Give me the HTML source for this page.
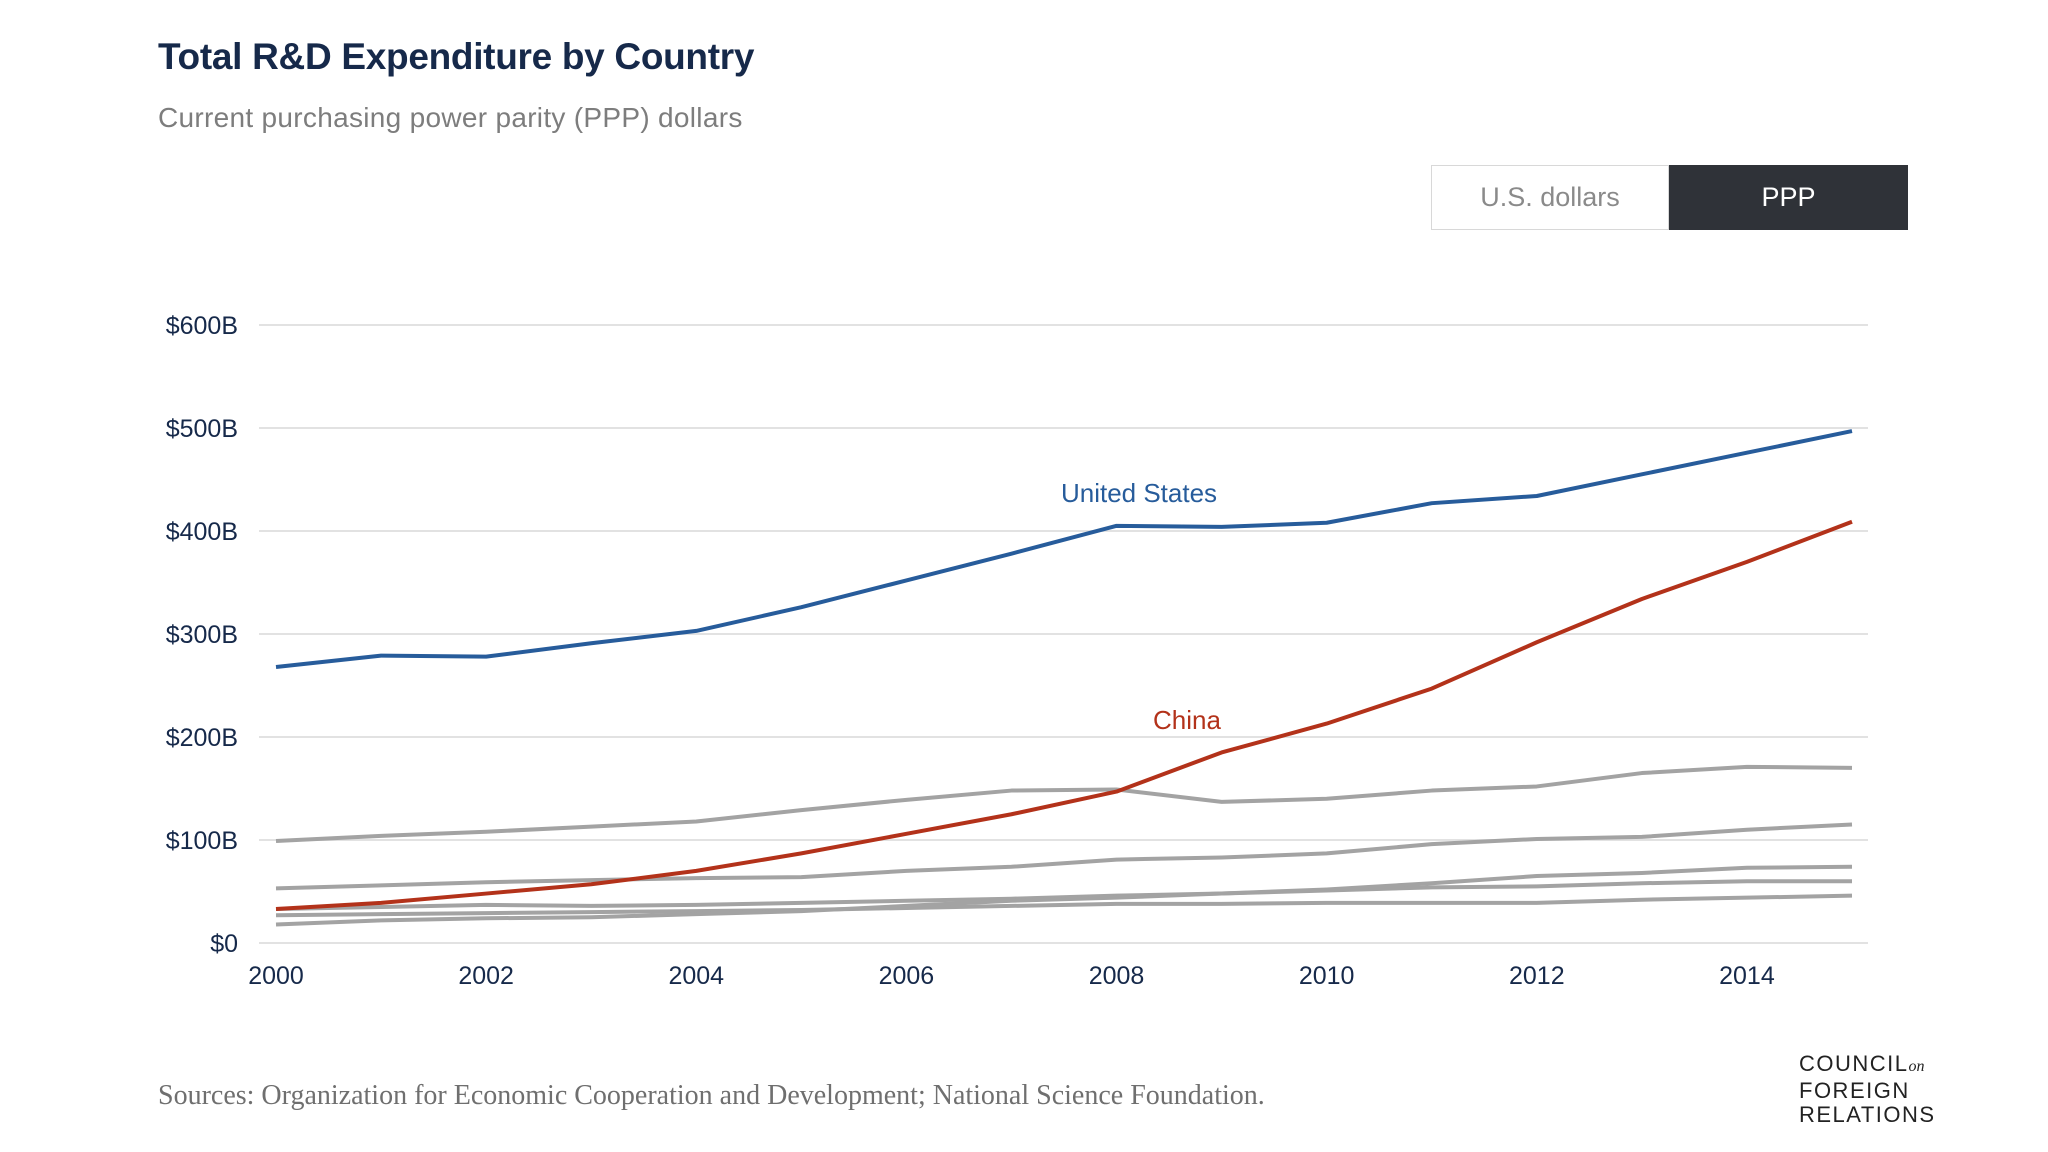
<!DOCTYPE html>
<html><head><meta charset="utf-8"><style>
body{margin:0;width:2048px;height:1152px;background:#fff;font-family:"Liberation Sans",sans-serif;overflow:hidden;position:relative}
.abs{position:absolute}
</style></head><body>
<div class="abs" style="left:158px;top:36px;font-size:37px;font-weight:bold;color:#16294a;letter-spacing:-0.3px">Total R&amp;D Expenditure by Country</div>
<div class="abs" style="left:158px;top:102px;font-size:28px;color:#7d7d7d;letter-spacing:0.3px">Current purchasing power parity (PPP) dollars</div>
<div class="abs" style="left:1431px;top:165px;width:236px;height:63px;border:1px solid #d8d8d8;color:#8a8a8a;font-size:27px;line-height:63px;text-align:center">U.S. dollars</div>
<div class="abs" style="left:1669px;top:165px;width:239px;height:65px;background:#2f3238;color:#fff;font-size:27px;line-height:65px;text-align:center">PPP</div>
<svg class="abs" style="left:0;top:0" width="2048" height="1152" id="chart"></svg>
<div class="abs" style="left:158px;top:1080px;font-family:'Liberation Serif',serif;font-size:28px;color:#6f6f6f">Sources: Organization for Economic Cooperation and Development; National Science Foundation.</div>
<div class="abs" style="left:1799px;top:1052px;font-size:22px;line-height:24px;color:#222;letter-spacing:1.5px">COUNCIL<i style="font-family:'Liberation Serif',serif;font-size:16px;letter-spacing:0">on</i><br>FOREIGN<br>RELATIONS</div>
<script>
const years=[2000,2001,2002,2003,2004,2005,2006,2007,2008,2009,2010,2011,2012,2013,2014,2015];
const usValues=[268,279,278,291,303,326,352,378,405,404,408,427,434,455,476,497];
const chinaValues=[33,39,48,57,70,87,106,125,147,185,213,247,292,334,370,409];
const japanValues=[99,104,108,113,118,129,139,148,149,137,140,148,152,165,171,170];
const germanyValues=[53,56,59,61,63,64,70,74,81,83,87,96,101,103,110,115];
const koreaValues=[18,22,24,25,28,31,36,41,44,48,52,58,65,68,73,74];
const franceValues=[33,35,37,36,37,39,41,43,46,48,51,54,55,58,60,60];
const ukValues=[27,28,29,30,31,32,34,36,38,38,39,39,39,42,44,46];
const yTicks=[0,100,200,300,400,500,600];
const yTickLabels=["$0","$100B","$200B","$300B","$400B","$500B","$600B"];
const xTicks=[2000,2002,2004,2006,2008,2010,2012,2014];
const NS="http://www.w3.org/2000/svg";
const svg=document.getElementById('chart');
const x=v=>276+(v-2000)*(1852-276)/15;
const y=v=>943-v*(943-325)/600;
function mk(t,a){const e=document.createElementNS(NS,t);for(const k in a)e.setAttribute(k,a[k]);svg.appendChild(e);return e;}
yTicks.forEach((t,i)=>{
 const g=mk('line',{x1:259,x2:1868,y1:y(t),y2:y(t),stroke:'#e2e2e2','stroke-width':2});
 
 
 const l=mk('text',{x:238,y:y(t)+9,'text-anchor':'end','font-size':25,fill:'#16294a'});
 l.textContent=yTickLabels[i];
 
 
});
xTicks.forEach(t=>{
 const l=mk('text',{x:x(t),y:984,'text-anchor':'middle','font-size':25,fill:'#16294a'});
 l.textContent=t;
 
 
});
function line(vals,color,name){
 const p=mk('polyline',{points:vals.map((v,i)=>x(years[i])+','+y(v)).join(' '),fill:'none',stroke:color,'stroke-width':4,'stroke-linejoin':'round'});
 
 
}
line(ukValues,'#a3a3a3','line-uk');
line(franceValues,'#a3a3a3','line-france');
line(koreaValues,'#a3a3a3','line-korea');
line(germanyValues,'#a3a3a3','line-germany');
line(japanValues,'#a3a3a3','line-japan');
line(chinaValues,'#b3321a','line-china');
line(usValues,'#275c9b','line-united-states');
const ul=mk('text',{x:1139,y:502,'text-anchor':'middle','font-size':26,fill:'#275c9b'});
ul.textContent='United States';


const cl=mk('text',{x:1187,y:729,'text-anchor':'middle','font-size':26,fill:'#b3321a'});
cl.textContent='China';


</script>
</body></html>
